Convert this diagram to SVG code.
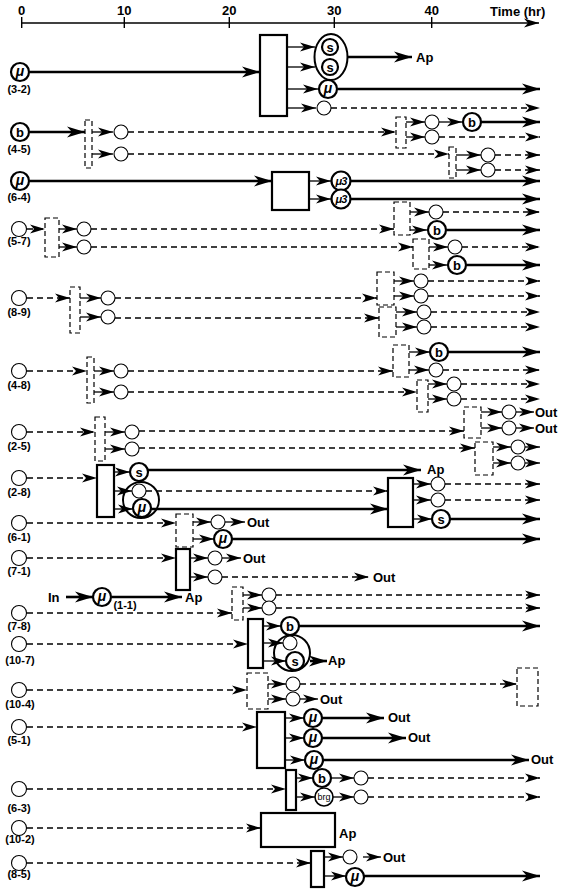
<svg xmlns="http://www.w3.org/2000/svg" width="562" height="893" viewBox="0 0 562 893">
<style>
.bc{fill:#fff;stroke:#000;stroke-width:2.2}
.oc{fill:#fff;stroke:#000;stroke-width:1.1}
.en{fill:none;stroke:#000;stroke-width:2}
.box{fill:#fff;stroke:#000;stroke-width:2.2}
.dbox{fill:#fff;stroke:#000;stroke-width:1.2;stroke-dasharray:5 3}
.sl{stroke:#000;stroke-width:2.6;fill:none;marker-end:url(#b)}
.dl{stroke:#000;stroke-width:1.3;stroke-dasharray:6 4;fill:none;marker-end:url(#a)}
.tl{stroke:#000;stroke-width:1.3;fill:none;marker-end:url(#a)}
text{font-family:"Liberation Sans",Arial,sans-serif;font-weight:bold;fill:#000}
.lb{font-size:11px;text-anchor:middle}
.c{font-size:13px;text-anchor:middle}
.mu{font-size:14px;font-style:italic;text-anchor:middle}
.m3{font-size:11px;font-style:italic;text-anchor:middle;letter-spacing:-1px}
.o{font-size:13px}
</style>
<defs>
<marker id="a" viewBox="-16 -5 17 10" refX="0" refY="0" markerWidth="17" markerHeight="10" orient="auto" markerUnits="userSpaceOnUse"><path d="M0,0 L-15,-4.5 L-11,0 L-15,4.5 z" fill="#000"/></marker>
<marker id="b" viewBox="-19 -6 20 12" refX="0" refY="0" markerWidth="20" markerHeight="12" orient="auto" markerUnits="userSpaceOnUse"><path d="M0,0 L-18,-5.5 L-13,0 L-18,5.5 z" fill="#000"/></marker>
</defs>
<rect width="562" height="893" fill="#fff"/>
<g id="axis">
<line x1="21" y1="23" x2="539" y2="23" stroke="#000" stroke-width="1.4" marker-end="url(#a)"/>
<path d="M21.7,17V28M124.3,17V28M229.3,17V28M334.3,17V28M431.7,17V28" stroke="#000" stroke-width="1.4"/>
<text class="c" x="21.7" y="15">0</text>
<text class="c" x="124.3" y="15">10</text>
<text class="c" x="229.3" y="15">20</text>
<text class="c" x="334.3" y="15">30</text>
<text class="c" x="431.7" y="15">40</text>
<text class="o" x="490" y="16">Time (hr)</text>
</g>
<g id="connectors">
<path class="sl" d="M30,72H260"/>
<path class="tl" d="M287,47H315"/><path class="tl" d="M287,67H315"/><path class="tl" d="M287,89H318"/><path class="tl" d="M287,108H316"/>
<path class="sl" d="M347,57H412"/>
<path class="sl" d="M338,89H540"/>
<path class="dl" d="M331,108H540"/>
<path class="sl" d="M30,132H85"/>
<path class="tl" d="M92,132H113"/><path class="tl" d="M92,154H113"/>
<path class="dl" d="M128,132H396"/>
<path class="dl" d="M128,154H449"/>
<path class="tl" d="M406,122H425"/><path class="tl" d="M406,137H425"/>
<path class="tl" d="M439,122H462"/>
<path class="sl" d="M481,122H540"/>
<path class="dl" d="M439,137H540"/>
<path class="tl" d="M456,155H481"/><path class="tl" d="M456,170H481"/>
<path class="dl" d="M495,155H540"/><path class="dl" d="M495,170H540"/>
<path class="sl" d="M30,181H272"/>
<path class="tl" d="M309,181H331"/><path class="tl" d="M309,199H331"/>
<path class="sl" d="M351,181H540"/><path class="sl" d="M351,199H540"/>
<path class="dl" d="M27,229H45"/>
<path class="tl" d="M59,229H77"/><path class="tl" d="M59,247H77"/>
<path class="dl" d="M91,229H394"/>
<path class="dl" d="M91,247H413"/>
<path class="tl" d="M410,212H429"/><path class="tl" d="M410,230H427"/>
<path class="dl" d="M443,212H540"/>
<path class="sl" d="M447,230H540"/>
<path class="tl" d="M429,247H448"/><path class="tl" d="M429,265H447"/>
<path class="dl" d="M462,247H540"/>
<path class="sl" d="M467,265H540"/>
<path class="dl" d="M27,298H70"/>
<path class="tl" d="M80,298H101"/><path class="tl" d="M80,317H101"/>
<path class="dl" d="M115,298H377"/>
<path class="dl" d="M115,318H379"/>
<path class="tl" d="M394,281H414"/><path class="tl" d="M394,296H414"/>
<path class="dl" d="M428,281H540"/><path class="dl" d="M428,296H540"/>
<path class="tl" d="M396,312H417"/><path class="tl" d="M396,327H417"/>
<path class="dl" d="M431,312H540"/><path class="dl" d="M431,327H540"/>
<path class="dl" d="M27,371H87"/>
<path class="tl" d="M94,371H114"/><path class="tl" d="M94,392H114"/>
<path class="dl" d="M128,371H393"/>
<path class="dl" d="M128,392H417"/>
<path class="tl" d="M409,352H430"/><path class="tl" d="M409,370H429"/>
<path class="sl" d="M448,352H540"/>
<path class="dl" d="M443,370H540"/>
<path class="tl" d="M428,384H447"/><path class="tl" d="M428,399H447"/>
<path class="dl" d="M461,384H540"/><path class="dl" d="M461,399H540"/>
<path class="dl" d="M27,432H95"/>
<path class="tl" d="M105,432H125"/><path class="tl" d="M105,449H125"/>
<path class="dl" d="M139,431H464"/>
<path class="dl" d="M139,448H475"/>
<path class="tl" d="M481,412H502"/><path class="tl" d="M481,428H502"/>
<path class="tl" d="M516,412H534"/><path class="tl" d="M516,428H534"/>
<path class="tl" d="M493,447H511"/><path class="tl" d="M493,463H511"/>
<path class="tl" d="M525,447H540"/><path class="tl" d="M525,463H540"/>
<path class="dl" d="M27,478H97"/>
<path class="tl" d="M114,472H130"/><path class="tl" d="M114,491H132"/><path class="tl" d="M114,509H133"/>
<path class="sl" d="M148,470H421"/>
<path class="dl" d="M146,491H388"/>
<path class="sl" d="M151,509H388"/>
<path class="tl" d="M413,484H431"/><path class="tl" d="M413,500H431"/><path class="tl" d="M413,519H432"/>
<path class="dl" d="M445,484H540"/><path class="dl" d="M445,500H540"/>
<path class="sl" d="M450,519H540"/>
<path class="dl" d="M27,523H176"/>
<path class="tl" d="M193,522H211"/><path class="tl" d="M193,539H214"/>
<path class="tl" d="M225,522H245"/>
<path class="sl" d="M232,539H540"/>
<path class="dl" d="M27,558H176"/>
<path class="tl" d="M190,558H208"/><path class="tl" d="M190,577H208"/>
<path class="tl" d="M222,558H241"/>
<path class="dl" d="M222,577H369"/>
<path class="dl" d="M27,613H232"/>
<path class="tl" d="M243,595H262"/><path class="tl" d="M243,608H262"/>
<path class="dl" d="M276,595H540"/><path class="dl" d="M276,608H540"/>
<path class="sl" d="M66,597H93"/>
<path class="sl" d="M112,597H182"/>
<path class="dl" d="M27,644H248"/>
<path class="tl" d="M263,626H281"/><path class="tl" d="M263,643H283"/><path class="tl" d="M263,661H286"/>
<path class="sl" d="M299,626H540"/>
<path class="sl" d="M310,661H327"/>
<path class="dl" d="M27,690H247"/>
<path class="tl" d="M268,684H286"/><path class="tl" d="M268,699H286"/>
<path class="dl" d="M300,684H517"/>
<path class="tl" d="M300,699H318"/>
<path class="dl" d="M27,727H257"/>
<path class="tl" d="M285,718H304"/><path class="tl" d="M285,738H304"/><path class="tl" d="M285,760H305"/>
<path class="sl" d="M322,718H384"/>
<path class="sl" d="M322,738H406"/>
<path class="sl" d="M323,760H529"/>
<path class="dl" d="M27,789H286"/>
<path class="tl" d="M296,778H313"/><path class="tl" d="M296,797H315"/>
<path class="tl" d="M331,778H354"/><path class="tl" d="M333,797H354"/>
<path class="dl" d="M368,778H540"/><path class="dl" d="M368,797H540"/>
<path class="dl" d="M27,828H261"/>
<path class="dl" d="M27,863H311"/>
<path class="tl" d="M324,857H343"/><path class="tl" d="M324,876H346"/>
<path class="tl" d="M363,857H381"/>
<path class="sl" d="M364,876H540"/>
</g>
<g id="r3-2">
<circle class="bc" cx="20" cy="72" r="9"/><text class="mu" x="20" y="76">μ</text>
<text class="lb" x="19" y="93">(3-2)</text>
<rect class="box" x="260" y="35" width="27" height="81"/>
<ellipse class="en" cx="331" cy="57" rx="16.5" ry="23"/>
<circle class="bc" cx="330" cy="47" r="8"/><text class="c" x="330" y="51.5">s</text>
<circle class="bc" cx="330" cy="67" r="8"/><text class="c" x="330" y="71.5">s</text>
<text class="o" x="416" y="62">Ap</text>
<circle class="bc" cx="328" cy="89" r="9"/><text class="mu" x="328" y="93">μ</text>
<circle class="oc" cx="324" cy="108" r="7"/>
</g>
<g id="r4-5">
<circle class="bc" cx="20" cy="132" r="9"/><text class="c" x="20" y="136.5">b</text>
<text class="lb" x="19" y="153">(4-5)</text>
<rect class="dbox" x="85" y="120" width="7" height="48"/>
<circle class="oc" cx="121" cy="132" r="7"/>
<circle class="oc" cx="121" cy="154" r="7"/>
<rect class="dbox" x="396" y="117" width="10" height="31"/>
<circle class="oc" cx="432" cy="122" r="7"/>
<circle class="oc" cx="432" cy="137" r="7"/>
<circle class="bc" cx="472" cy="122" r="9"/><text class="c" x="472" y="126.5">b</text>
<rect class="dbox" x="449" y="147" width="7" height="31"/>
<circle class="oc" cx="488" cy="155" r="7"/>
<circle class="oc" cx="488" cy="170" r="7"/>
</g>
<g id="r6-4">
<circle class="bc" cx="20" cy="181" r="9"/><text class="mu" x="20" y="185">μ</text>
<text class="lb" x="19" y="201">(6-4)</text>
<rect class="box" x="272" y="172" width="37" height="38"/>
<circle class="bc" cx="341" cy="181" r="9.5"/><text class="m3" x="341" y="185">μ3</text>
<circle class="bc" cx="341" cy="199" r="9.5"/><text class="m3" x="341" y="203">μ3</text>
</g>
<g id="r5-7">
<circle class="oc" cx="19" cy="229" r="7.5"/>
<text class="lb" x="19" y="245">(5-7)</text>
<rect class="dbox" x="45" y="218" width="14" height="39"/>
<circle class="oc" cx="84" cy="229" r="7"/>
<circle class="oc" cx="84" cy="247" r="7"/>
<rect class="dbox" x="394" y="202" width="16" height="33"/>
<circle class="oc" cx="436" cy="212" r="7"/>
<circle class="bc" cx="437" cy="230" r="9"/><text class="c" x="437" y="234.5">b</text>
<rect class="dbox" x="413" y="239" width="16" height="30"/>
<circle class="oc" cx="455" cy="247" r="7"/>
<circle class="bc" cx="457" cy="265" r="9"/><text class="c" x="457" y="269.5">b</text>
</g>
<g id="r8-9">
<circle class="oc" cx="19" cy="298" r="7.5"/>
<text class="lb" x="19" y="316">(8-9)</text>
<rect class="dbox" x="70" y="287" width="10" height="46"/>
<circle class="oc" cx="108" cy="298" r="7"/>
<circle class="oc" cx="108" cy="317" r="7"/>
<rect class="dbox" x="377" y="272" width="17" height="33"/>
<circle class="oc" cx="421" cy="281" r="7"/>
<circle class="oc" cx="421" cy="296" r="7"/>
<rect class="dbox" x="379" y="307" width="17" height="30"/>
<circle class="oc" cx="424" cy="312" r="7"/>
<circle class="oc" cx="424" cy="327" r="7"/>
</g>
<g id="r4-8">
<circle class="oc" cx="19" cy="371" r="7.5"/>
<text class="lb" x="19" y="389">(4-8)</text>
<rect class="dbox" x="87" y="357" width="7" height="46"/>
<circle class="oc" cx="121" cy="371" r="7"/>
<circle class="oc" cx="121" cy="392" r="7"/>
<rect class="dbox" x="393" y="345" width="16" height="32"/>
<circle class="bc" cx="439" cy="352" r="9"/><text class="c" x="439" y="356.5">b</text>
<circle class="oc" cx="436" cy="370" r="7"/>
<rect class="dbox" x="417" y="380" width="11" height="32"/>
<circle class="oc" cx="454" cy="384" r="7"/>
<circle class="oc" cx="454" cy="399" r="7"/>
</g>
<g id="r2-5">
<circle class="oc" cx="19" cy="432" r="7.5"/>
<text class="lb" x="19" y="450">(2-5)</text>
<rect class="dbox" x="95" y="417" width="10" height="44"/>
<circle class="oc" cx="132" cy="432" r="7"/>
<circle class="oc" cx="132" cy="449" r="7"/>
<rect class="dbox" x="464" y="407" width="17" height="31"/>
<circle class="oc" cx="509" cy="412" r="7"/>
<circle class="oc" cx="509" cy="428" r="7"/>
<text class="o" x="535" y="417">Out</text>
<text class="o" x="535" y="433">Out</text>
<rect class="dbox" x="475" y="442" width="18" height="33"/>
<circle class="oc" cx="518" cy="447" r="7"/>
<circle class="oc" cx="518" cy="463" r="7"/>
</g>
<g id="r2-8">
<circle class="oc" cx="19" cy="478" r="7.5"/>
<text class="lb" x="19" y="496">(2-8)</text>
<rect class="box" x="97" y="465" width="17" height="52"/>
<circle class="en" cx="141" cy="500" r="18"/>
<circle class="bc" cx="139" cy="472" r="9"/><text class="c" x="139" y="476.5">s</text>
<circle class="oc" cx="139" cy="491" r="7"/>
<circle class="bc" cx="142" cy="508" r="9"/><text class="mu" x="142" y="512">μ</text>
<text class="o" x="427" y="474">Ap</text>
<rect class="box" x="388" y="478" width="25" height="49"/>
<circle class="oc" cx="438" cy="484" r="7"/>
<circle class="oc" cx="438" cy="500" r="7"/>
<circle class="bc" cx="441" cy="519" r="9"/><text class="c" x="441" y="523.5">s</text>
</g>
<g id="r6-1">
<circle class="oc" cx="19" cy="523" r="7.5"/>
<text class="lb" x="19" y="541">(6-1)</text>
<rect class="dbox" x="176" y="514" width="17" height="33"/>
<circle class="oc" cx="218" cy="522" r="7"/>
<text class="o" x="247" y="527">Out</text>
<circle class="bc" cx="223" cy="539" r="9"/><text class="mu" x="223" y="543">μ</text>
</g>
<g id="r7-1">
<circle class="oc" cx="19" cy="558" r="7.5"/>
<text class="lb" x="19" y="575">(7-1)</text>
<rect class="box" x="176" y="549" width="14" height="41"/>
<circle class="oc" cx="215" cy="558" r="7"/>
<text class="o" x="243" y="563">Out</text>
<circle class="oc" cx="215" cy="577" r="7"/>
<text class="o" x="373" y="582">Out</text>
</g>
<g id="r1-1">
<text class="o" x="48" y="602">In</text>
<circle class="bc" cx="102" cy="597" r="9"/><text class="mu" x="102" y="601">μ</text>
<text class="lb" x="125" y="609">(1-1)</text>
<text class="o" x="185" y="602">Ap</text>
</g>
<g id="r7-8">
<circle class="oc" cx="19" cy="613" r="7.5"/>
<text class="lb" x="19" y="630">(7-8)</text>
<rect class="dbox" x="232" y="587" width="11" height="33"/>
<circle class="oc" cx="269" cy="595" r="7"/>
<circle class="oc" cx="269" cy="608" r="7"/>
</g>
<g id="r10-7">
<circle class="oc" cx="19" cy="644" r="7.5"/>
<text class="lb" x="20" y="664">(10-7)</text>
<rect class="box" x="248" y="619" width="15" height="49"/>
<circle class="bc" cx="290" cy="626" r="9"/><text class="c" x="290" y="630.5">b</text>
<circle class="en" cx="292" cy="653" r="18"/>
<circle class="oc" cx="290" cy="643" r="7"/>
<circle class="bc" cx="295" cy="661" r="9"/><text class="c" x="295" y="665.5">s</text>
<text class="o" x="328" y="665">Ap</text>
</g>
<g id="r10-4">
<circle class="oc" cx="19" cy="690" r="7.5"/>
<text class="lb" x="20" y="708">(10-4)</text>
<rect class="dbox" x="247" y="673" width="21" height="36"/>
<circle class="oc" cx="293" cy="684" r="7"/>
<circle class="oc" cx="293" cy="699" r="7"/>
<text class="o" x="320" y="704">Out</text>
<rect class="dbox" x="517" y="668" width="21" height="38"/>
</g>
<g id="r5-1">
<circle class="oc" cx="19" cy="727" r="7.5"/>
<text class="lb" x="19" y="744">(5-1)</text>
<rect class="box" x="257" y="712" width="28" height="56"/>
<circle class="bc" cx="313" cy="718" r="9"/><text class="mu" x="313" y="722">μ</text>
<circle class="bc" cx="313" cy="738" r="9"/><text class="mu" x="313" y="742">μ</text>
<circle class="bc" cx="314" cy="760" r="9"/><text class="mu" x="314" y="764">μ</text>
<text class="o" x="388" y="722">Out</text>
<text class="o" x="408" y="742">Out</text>
<text class="o" x="531" y="764">Out</text>
</g>
<g id="r6-3">
<circle class="oc" cx="19" cy="789" r="7.5"/>
<text class="lb" x="19" y="812">(6-3)</text>
<rect class="box" x="286" y="770" width="10" height="40"/>
<circle class="bc" cx="322" cy="778" r="9"/><text class="c" x="322" y="782.5">b</text>
<circle class="oc" cx="324" cy="797" r="9" style="stroke-width:1.6"/><text x="324" y="800" style="font-size:9px;text-anchor:middle;font-weight:normal">brg</text>
<circle class="oc" cx="361" cy="778" r="7"/>
<circle class="oc" cx="361" cy="797" r="7"/>
</g>
<g id="r10-2">
<circle class="oc" cx="19" cy="828" r="7.5"/>
<text class="lb" x="20" y="843">(10-2)</text>
<rect class="box" x="261" y="813" width="74" height="34"/>
<text class="o" x="339" y="838">Ap</text>
</g>
<g id="r8-5">
<circle class="oc" cx="19" cy="863" r="7.5"/>
<text class="lb" x="19" y="878">(8-5)</text>
<rect class="box" x="311" y="851" width="13" height="36"/>
<circle class="oc" cx="350" cy="857" r="7"/>
<text class="o" x="383" y="862">Out</text>
<circle class="bc" cx="355" cy="877" r="9"/><text class="mu" x="355" y="881">μ</text>
</g>
</svg>
